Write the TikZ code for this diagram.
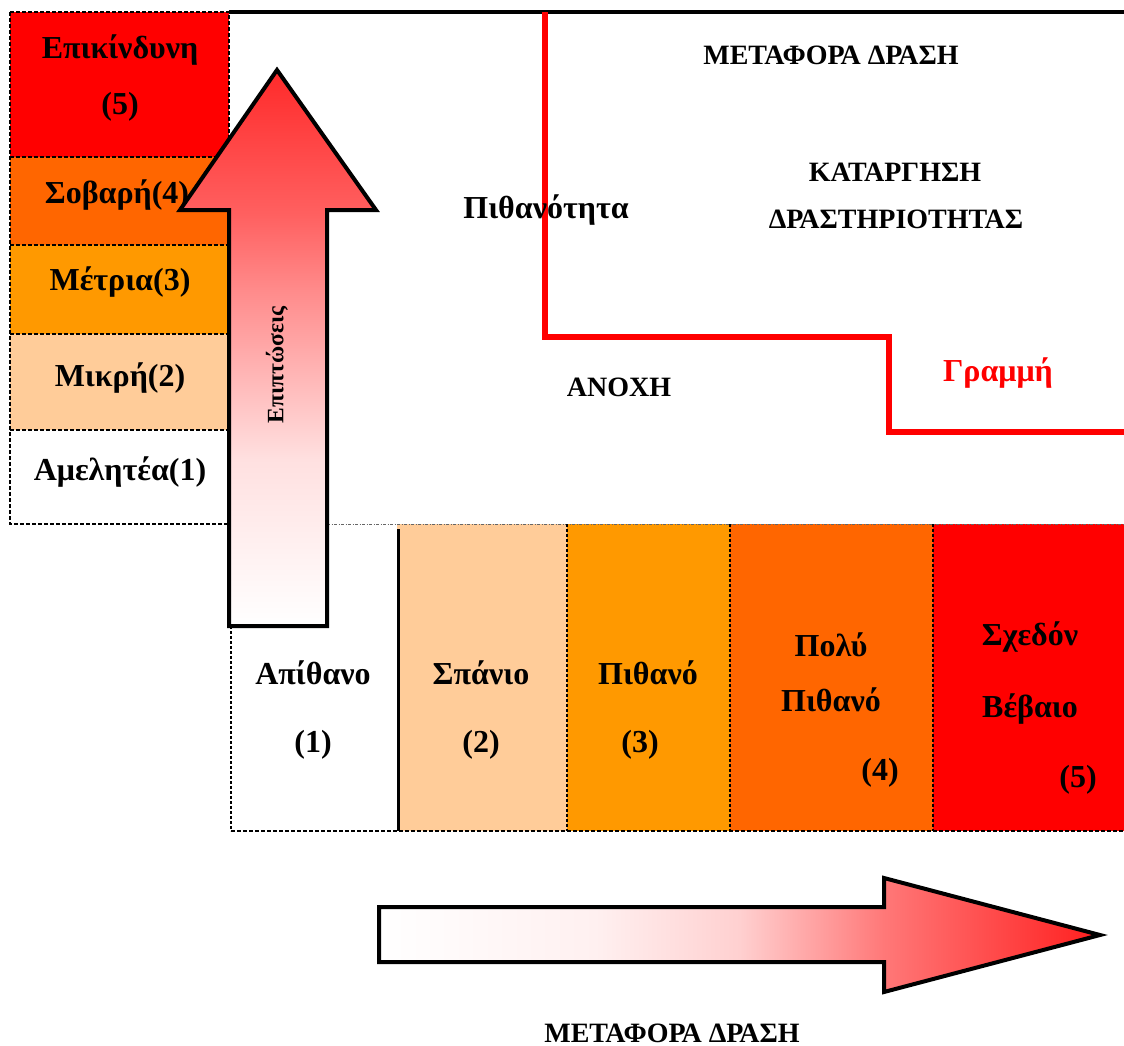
\documentclass[tikz,border=0pt]{standalone}
\usepackage{fontspec}
\setmainfont{Liberation Serif}
\definecolor{cred}{HTML}{FF0000}
\definecolor{cdorange}{HTML}{FF6600}
\definecolor{corange}{HTML}{FF9900}
\definecolor{cpeach}{HTML}{FFCC99}
\definecolor{sA}{HTML}{FFF0F0}
\definecolor{sB}{HTML}{FFD0D0}
\definecolor{sC}{HTML}{FF7878}
\definecolor{sD}{HTML}{FF4848}
\definecolor{sE}{HTML}{FF1E1E}
\definecolor{uA}{HTML}{FFE0E0}
\definecolor{uB}{HTML}{FF8C8C}
\definecolor{uC}{HTML}{FF6060}
\definecolor{uD}{HTML}{FF2A2A}
\pgfdeclarehorizontalshading{rarrowsh}{100bp}{color(0bp)=(white); color(25bp)=(white); color(40bp)=(sA); color(50bp)=(sB); color(60bp)=(sC); color(68bp)=(sD); color(75bp)=(sE); color(100bp)=(sE)}
\pgfdeclareverticalshading{uarrowsh}{100bp}{color(0bp)=(white); color(25bp)=(white); color(40bp)=(uA); color(55bp)=(uB); color(62bp)=(uC); color(75bp)=(uD); color(100bp)=(uD)}
\begin{document}
\begin{tikzpicture}[x=1pt,y=-1pt,
  lbl/.style={inner sep=0pt, font=\fontsize{32}{38}\selectfont\bfseries},
  caps/.style={inner sep=0pt, font=\fontsize{28}{33}\selectfont\bfseries},
  small/.style={inner sep=0pt, font=\fontsize{23.5}{28}\selectfont\bfseries},
  dsh/.style={draw=black, line width=1.8pt, dash pattern=on 4pt off 2pt},
  thindsh/.style={draw=black, line width=1.4pt, dash pattern=on 3pt off 2pt},
  faint/.style={draw=black!60, line width=1pt, dash pattern=on 3pt off 1.5pt on 1pt off 1.5pt},
  bigarrow/.style={draw=black, line width=4pt, miter limit=10}]
\useasboundingbox (0,0) rectangle (1124,1046);
% left impact column
\fill[cred] (10,12) rectangle (229,157);
\fill[cdorange] (10,157) rectangle (229,245);
\fill[corange] (10,245) rectangle (229,334);
\fill[cpeach] (10,334) rectangle (229,430);
\draw[dsh] (10,12) rectangle (229,524);
\draw[dsh] (10,157) -- (229,157);
\draw[dsh] (10,245) -- (229,245);
\draw[dsh] (10,334) -- (229,334);
\draw[dsh] (10,430) -- (229,430);
% bottom likelihood row
\fill[cpeach] (397,524) rectangle (567,831);
\fill[corange] (567,524) rectangle (730,831);
\fill[cdorange] (730,524) rectangle (933,831);
\fill[cred] (933,524) rectangle (1124,831);
\draw[faint] (327,524) -- (1124,524);
\draw[thindsh] (567,524) -- (567,831);
\draw[thindsh] (730,524) -- (730,831);
\draw[thindsh] (933,524) -- (933,831);
\draw[thindsh] (231,626) -- (231,831);
\draw[dsh, line width=2.6pt] (231,831) -- (1124,831);
\draw[black, line width=3pt] (398,529) -- (398,831);
% top line and red line
\draw[black, line width=4pt] (229,12) -- (1124,12);
\draw[cred, line width=6pt] (545,12) -- (545,337) -- (889,337) -- (889,432) -- (1124,432);
% texts left column
\node[lbl] (n5a) at (120,50) {Επικίνδυνη};
\node[lbl] (n5b) at (120,107) {(5)};
\node[lbl] (n4) at (117,195) {Σοβαρή(4)};
\node[lbl] (n3) at (120,282) {Μέτρια(3)};
\node[lbl] (n2) at (120,378) {Μικρή(2)};
\node[lbl] (n1) at (120,472) {Αμελητέα(1)};
% texts bottom row
\node[lbl] (p1a) at (313,673) {Απίθανο};
\node[lbl] (p1b) at (313,745) {(1)};
\node[lbl] (p2a) at (481,673) {Σπάνιο};
\node[lbl] (p2b) at (481,745) {(2)};
\node[lbl] (p3a) at (648,673) {Πιθανό};
\node[lbl] (p3b) at (640,745) {(3)};
\node[lbl] (p4a) at (831,645) {Πολύ};
\node[lbl] (p4b) at (831,700) {Πιθανό};
\node[lbl] (p4c) at (880,773) {(4)};
\node[lbl] (p5a) at (1030,637) {Σχεδόν};
\node[lbl] (p5b) at (1030,709) {Βέβαιο};
\node[lbl] (p5c) at (1078,780) {(5)};
% upper texts
\node[lbl] (prob) at (546,210) {Πιθανότητα};
\node[caps] (meta1) at (831,55) {ΜΕΤΑΦΟΡΑ ΔΡΑΣΗ};
\node[caps] (kat1) at (895,172) {ΚΑΤΑΡΓΗΣΗ};
\node[caps] (kat2) at (896,219) {ΔΡΑΣΤΗΡΙΟΤΗΤΑΣ};
\node[caps] (anoxi) at (619,387) {ΑΝΟΧΗ};
\node[lbl, text=cred] (gram) at (998,373) {Γραμμή};
\node[caps] (meta2) at (672,1033) {ΜΕΤΑΦΟΡΑ ΔΡΑΣΗ};
% up arrow
\path[bigarrow, shade, shading=uarrowsh] (229,626) -- (229,210) -- (180,210) -- (277,70) -- (376,210) -- (327,210) -- (327,626) -- cycle;
\node[small, rotate=90] (epip) at (277,365) {Επιπτώσεις};
% right arrow
\path[bigarrow, shade, shading=rarrowsh] (379,907) -- (884,907) -- (884,878) -- (1100,935) -- (884,992) -- (884,962) -- (379,962) -- cycle;
\end{tikzpicture}
\end{document}
